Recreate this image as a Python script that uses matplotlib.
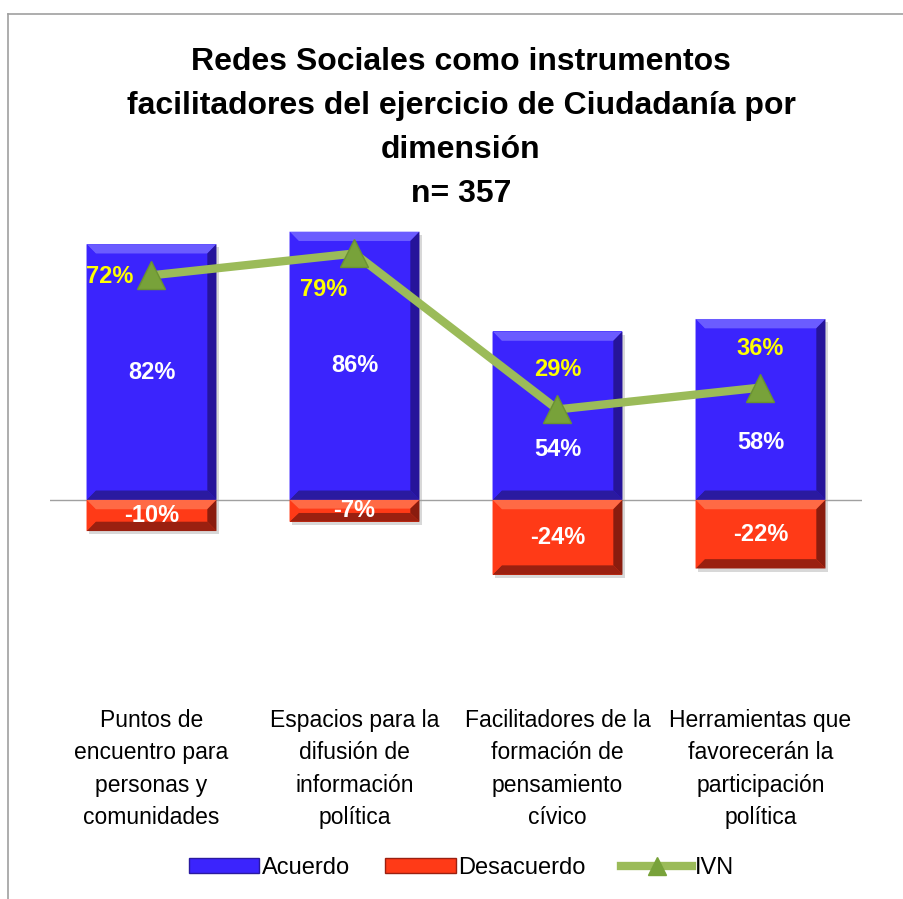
import matplotlib
matplotlib.use("Agg")
import matplotlib.pyplot as plt
from matplotlib.patches import Polygon, Patch
from matplotlib.lines import Line2D
import numpy as np

categorias = [
    "Puntos de\nencuentro para\npersonas y\ncomunidades",
    "Espacios para la\ndifusión de\ninformación\npolítica",
    "Facilitadores de la\nformación de\npensamiento\ncívico",
    "Herramientas que\nfavorecerán la\nparticipación\npolítica",
]
acuerdo = [82, 86, 54, 58]
desacuerdo = [-10, -7, -24, -22]
ivn = [72, 79, 29, 36]

titulo = "Redes Sociales como instrumentos\nfacilitadores del ejercicio de Ciudadanía por\ndimensión\nn= 357"

plt.rcParams["font.family"] = ["Liberation Sans", "DejaVu Sans"]

AZUL = "#3b24fd"
ROJO = "#ff3a17"
VERDE = "#9bbb59"

fig = plt.figure(figsize=(9.04, 8.99), dpi=100)
W, H = 904, 899
ax = fig.add_axes([50 / W, 1 - 687 / H, 812 / W, 499 / H])
ax.set_xlim(-0.5, 3.5)
ax.set_ylim(-60, 100)
ax.axis("off")

x = np.arange(len(categorias))
bw = 0.64


def bisel(ax, patch, base, claro, oscuro, lado):
    # simula el biselado de Excel con trapecios
    x0, y0 = patch.get_x(), patch.get_y()
    w, h = patch.get_width(), patch.get_height()
    y1 = y0 + h
    ylo, yhi = min(y0, y1), max(y0, y1)
    dx = 0.045
    dy = min(3.0, (yhi - ylo) / 2.5)
    polys = [
        ([(x0, yhi), (x0 + w, yhi), (x0 + w - dx, yhi - dy), (x0 + dx, yhi - dy)], claro),
        ([(x0, ylo), (x0 + w, ylo), (x0 + w - dx, ylo + dy), (x0 + dx, ylo + dy)], oscuro),
        ([(x0 + w, ylo), (x0 + w, yhi), (x0 + w - dx, yhi - dy), (x0 + w - dx, ylo + dy)], lado),
        ([(x0, ylo), (x0, yhi), (x0 + dx, yhi - dy), (x0 + dx, ylo + dy)], base),
    ]
    for pts, c in polys:
        ax.add_patch(Polygon(pts, closed=True, facecolor=c, edgecolor="none", zorder=2.5))
    # sombra
    ax.add_patch(Polygon([(x0 + 0.012, ylo - 1.0), (x0 + w + 0.012, ylo - 1.0),
                          (x0 + w + 0.012, yhi - 1.0), (x0 + 0.012, yhi - 1.0)],
                         closed=True, facecolor="#d8d8d8", edgecolor="none", zorder=1.5))


b1 = ax.bar(x, acuerdo, bw, color=AZUL, zorder=2)
b2 = ax.bar(x, desacuerdo, bw, color=ROJO, zorder=2)
for p in b1:
    bisel(ax, p, AZUL, "#6b5cff", "#2a1aa0", "#26149a")
for p in b2:
    bisel(ax, p, ROJO, "#ff6a45", "#9a2010", "#8a1c0e")

ax.axhline(0, color="#a0a0a0", lw=1, zorder=1.8)

ax.plot(x, ivn, color=VERDE, lw=6, zorder=4, solid_capstyle="round")
ax.plot(x, ivn, ls="none", marker="^", ms=20, mfc="#78a23a", mec="#6a9232", zorder=5)

# etiquetas
off_acuerdo = [0, 0, -24, -24]
for xi, v, o in zip(x, acuerdo, off_acuerdo):
    ax.annotate(f"{v}%", (xi, v / 2), xytext=(0, o), textcoords="offset points",
                ha="center", va="center", color="white", fontsize=17, fontweight="bold", zorder=6)
for xi, v in zip(x, desacuerdo):
    ax.annotate(f"{v}%", (xi, v / 2), ha="center", va="center", color="white",
                fontsize=17, fontweight="bold", zorder=6)
off_ivn = [(-30, -1), (-22, -26), (0, 29), (0, 28)]
for xi, v, o in zip(x, ivn, off_ivn):
    ax.annotate(f"{v}%", (xi, v), xytext=o, textcoords="offset points",
                ha="center", va="center", color="#ffff00", fontsize=17, fontweight="bold", zorder=6)

for xi, c in zip(x, categorias):
    ax.text(xi, -67, c, ha="center", va="top", fontsize=16.5, linespacing=1.52)

fig.text(0.51, 1 - 128 / H, titulo, ha="center", va="center", fontsize=23,
         fontweight="bold", linespacing=1.6)

handles = [
    Patch(facecolor=AZUL, edgecolor="#2a1aa0"),
    Patch(facecolor=ROJO, edgecolor="#9a2010"),
    Line2D([], [], color=VERDE, lw=6, marker="^", ms=13, mfc="#78a23a", mec="#78a23a"),
]
fig.legend(handles, ["Acuerdo", "Desacuerdo", "IVN"], loc="center",
           bbox_to_anchor=(0.51, 1 - 868 / H), ncol=3, frameon=False, fontsize=17,
           handlelength=3.0, handleheight=0.6, handletextpad=0.1, columnspacing=1.5)

# marco del gráfico
fig.add_artist(Line2D([8 / W, 1], [1 - 14 / H, 1 - 14 / H], color="#a0a0a0", lw=1.2))
fig.add_artist(Line2D([8 / W, 8 / W], [0, 1 - 14 / H], color="#a0a0a0", lw=1.2))

fig.savefig("out.png", dpi=100)
